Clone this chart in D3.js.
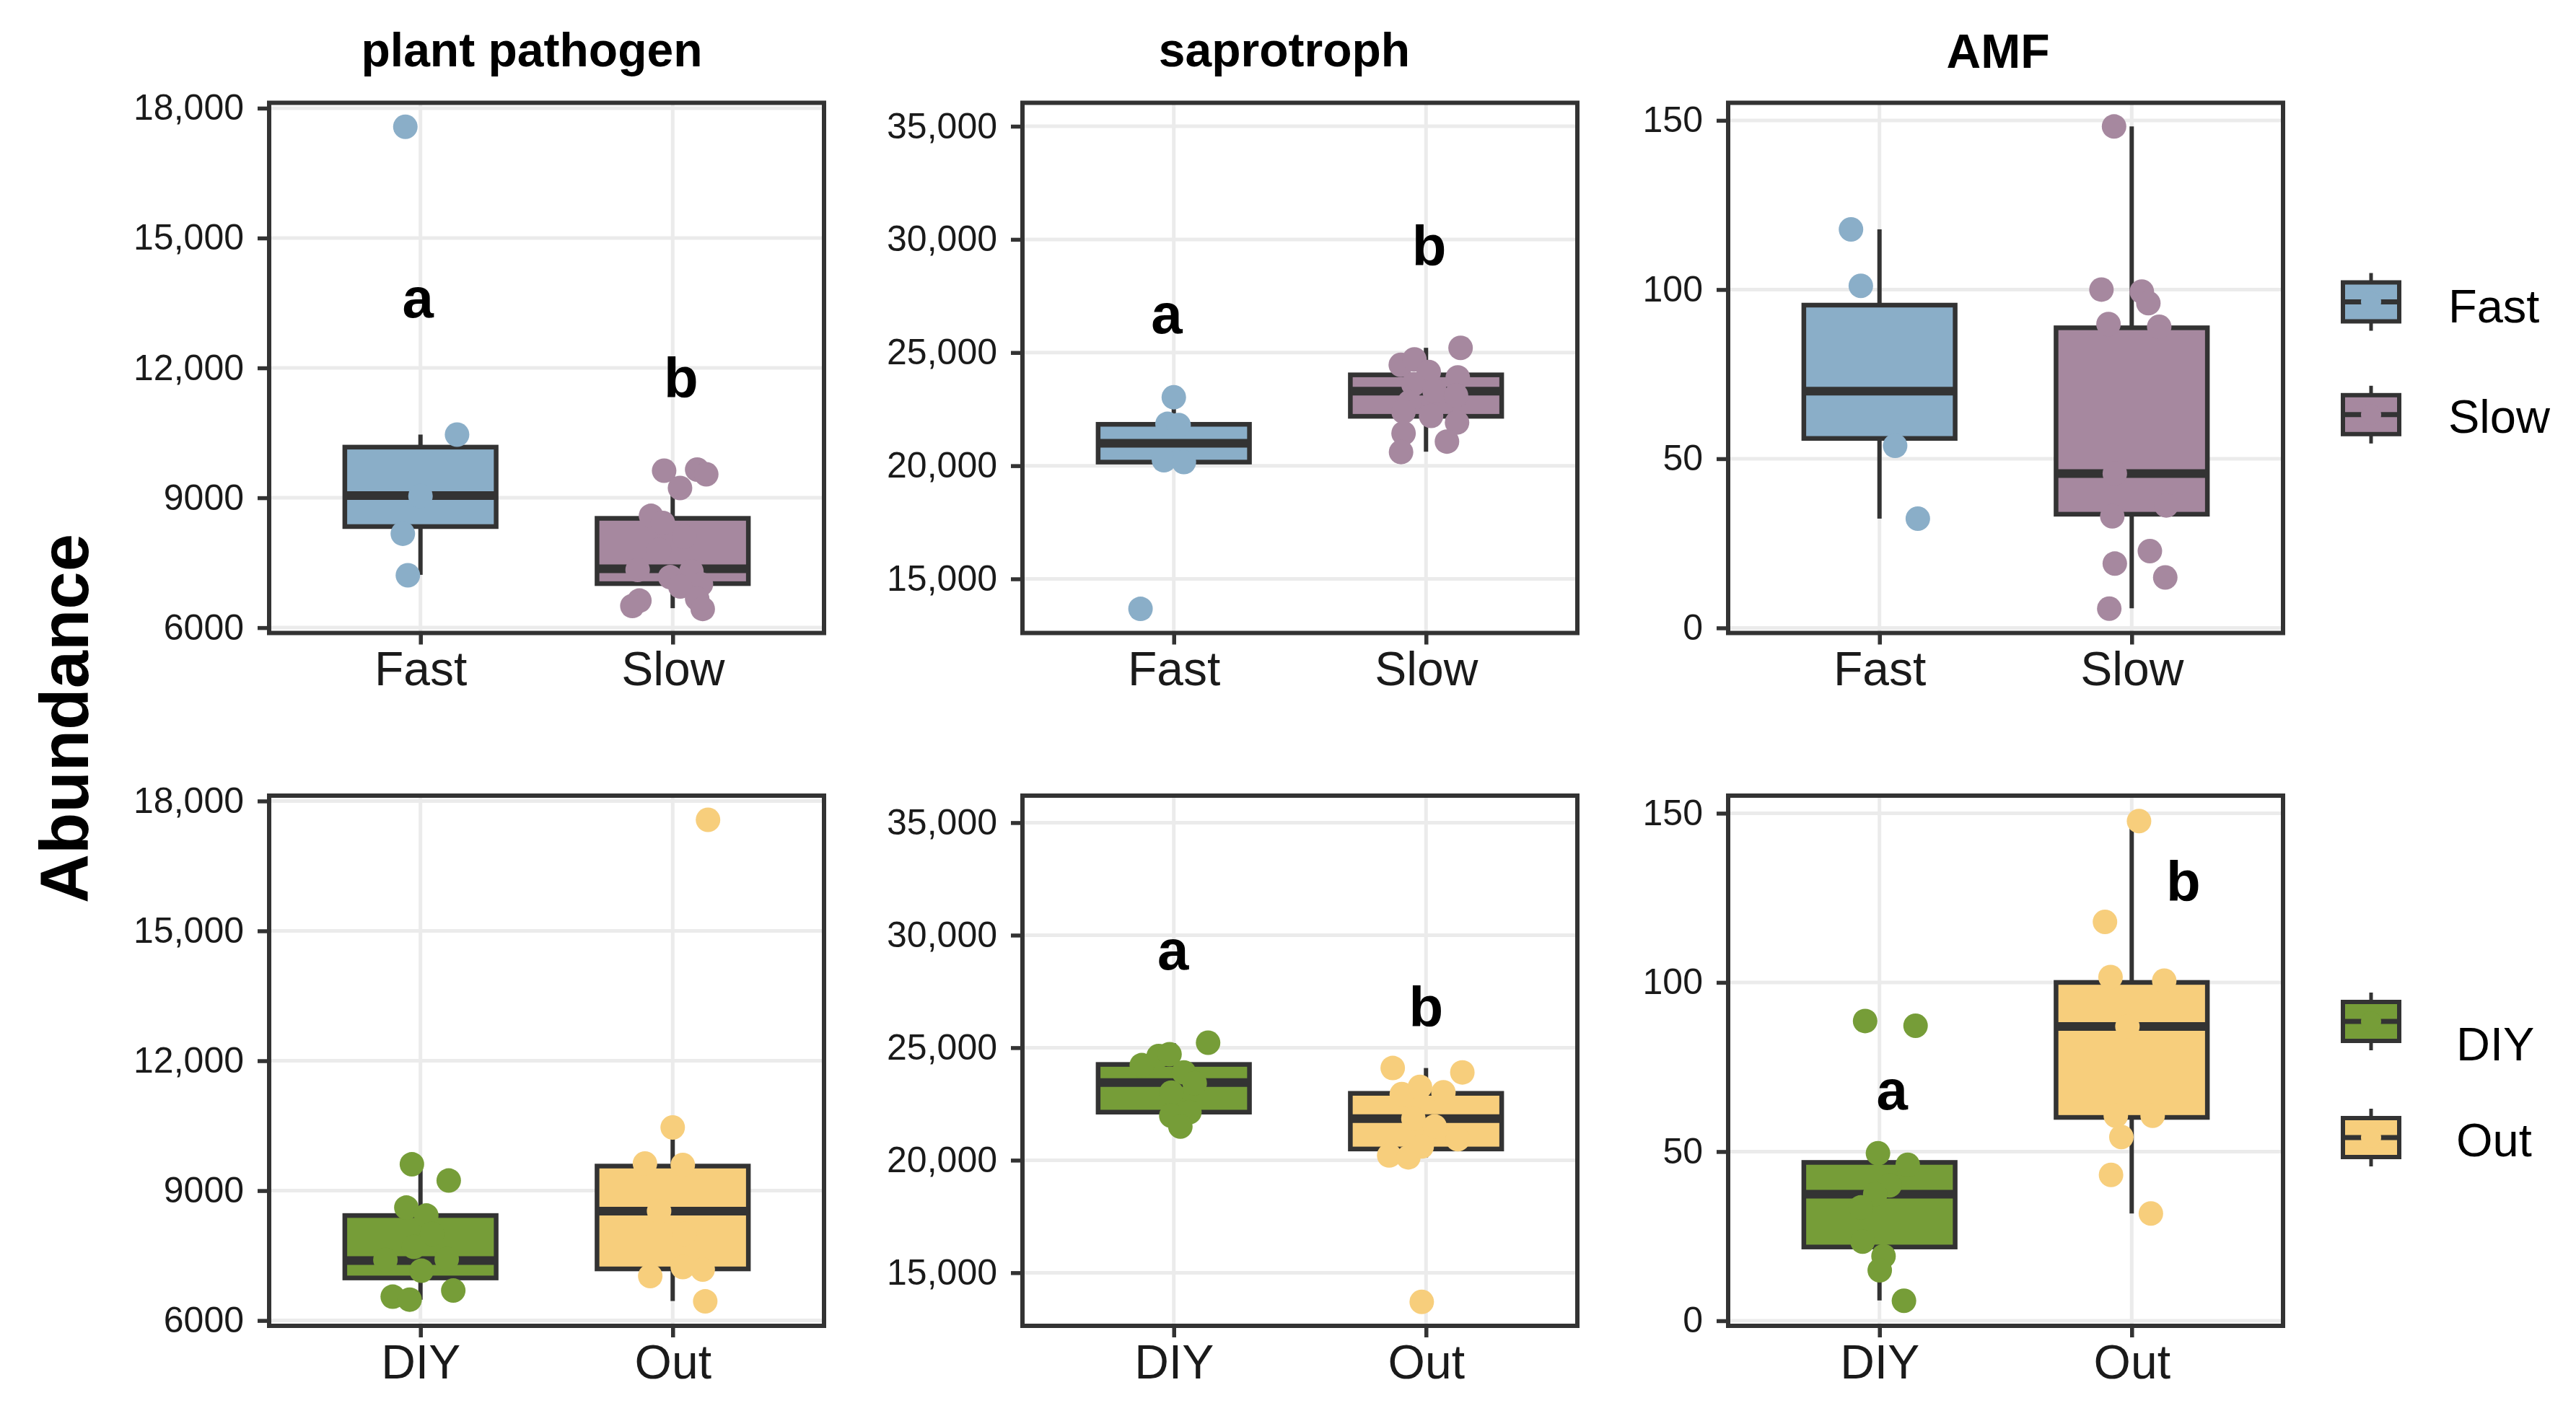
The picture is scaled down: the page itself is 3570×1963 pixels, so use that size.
<!DOCTYPE html>
<html>
<head>
<meta charset="utf-8">
<script src="https://cdn.jsdelivr.net/npm/d3@7"></script>
<style>
  body { margin: 0; background: #ffffff; }
  svg { display: block; }
  text { font-family: "Liberation Sans", Arial, Helvetica, sans-serif; }
</style>
</head>
<body>
<svg id="chart" width="3570" height="1963"></svg>
<script>
// ---------------- DATA ----------------
const functionalGroups = ["plant pathogen", "saprotroph", "AMF"];
const speedGroups = ["Fast", "Slow"];
const originGroups = ["DIY", "Out"];
const yTitle = "Abundance";

// tick values and labels
const pathogenTicks = [6000, 9000, 12000, 15000, 18000];
const pathogenTickLabels = ["6000", "9000", "12,000", "15,000", "18,000"];
const saproTicks = [15000, 20000, 25000, 30000, 35000];
const saproTickLabels = ["15,000", "20,000", "25,000", "30,000", "35,000"];
const amfTicks = [0, 50, 100, 150];
const amfTickLabels = ["0", "50", "100", "150"];

// box statistics: [lower whisker, Q1, median, Q3, upper whisker]
const pathogenFastBox = [7220, 8335, 9050, 10170, 10460];
const pathogenSlowBox = [6450, 7017, 7358, 8525, 9650];
const saproFastBox    = [20160, 20160, 20990, 21830, 23030];
const saproSlowBox    = [20620, 22183, 23298, 24015, 25210];
const amfFastBox      = [32.3, 56, 70, 95.4, 117.8];
const amfSlowBox      = [5.8, 33.6, 45.6, 88.7, 148.2];
const pathogenDIYBox  = [6480, 6983, 7383, 8425, 9610];
const pathogenOutBox  = [6450, 7192, 8525, 9567, 10460];
const saproDIYBox     = [21494, 22136, 23453, 24256, 25200];
const saproOutBox     = [20128, 20498, 21847, 22971, 24096];
const amfDIYBox       = [6.0, 21.8, 37.4, 46.8, 49.5];
const amfOutBox       = [31.7, 60.1, 87.0, 100.0, 147.7];

// jittered sample points: values and horizontal jitter (category units)
const pathogenFastValues = [17570, 10460, 9040, 8170, 7210];
const pathogenFastJitter = [-0.06, 0.145, 0.0, -0.07, -0.05];
const pathogenSlowValues = [9625, 9650, 9542, 9225, 8583, 8417, 8100, 7800, 7333, 7300, 7167, 7000, 6950, 6625, 6500, 6667, 6433];
const pathogenSlowJitter = [-0.034, 0.097, 0.133, 0.029, -0.086, -0.039, 0.046, -0.054, -0.139, 0.074, -0.01, 0.112, 0.03, -0.132, -0.16, 0.097, 0.119];
const saproFastValues = [13674, 23027, 21850, 21800, 20240, 20160];
const saproFastJitter = [-0.132, 0.0, -0.025, 0.019, -0.039, 0.04];
const saproSlowValues = [25210, 24461, 24700, 24143, 23904, 23600, 23300, 23107, 22800, 22390, 22200, 21912, 21434, 21068, 20605];
const saproSlowJitter = [0.137, -0.1, -0.046, 0.011, 0.126, -0.05, 0.034, 0.119, -0.066, -0.089, 0.02, 0.123, -0.089, 0.083, -0.099];
const amfFastValues = [117.8, 101.1, 53.8, 32.3];
const amfFastJitter = [-0.113, -0.074, 0.062, 0.152];
const amfSlowValues = [148.2, 100, 99.4, 96, 89.8, 89, 45.6, 33, 36.2, 22.7, 19, 14.9, 5.7];
const amfSlowJitter = [-0.07, -0.12, 0.04, 0.066, -0.092, 0.109, -0.067, -0.077, 0.137, 0.072, -0.067, 0.133, -0.089];
const pathogenDIYValues = [9608, 9233, 8608, 8425, 8000, 7700, 7400, 7420, 7150, 6692, 6550, 6483];
const pathogenDIYJitter = [-0.034, 0.112, -0.056, 0.023, 0.046, -0.026, -0.139, 0.104, 0.004, 0.13, -0.11, -0.043];
const pathogenOutValues = [17567, 10458, 9625, 9592, 8525, 8000, 7025, 7233, 7175, 6442];
const pathogenOutJitter = [0.14, 0.0, -0.11, 0.04, -0.054, 0.046, -0.089, 0.04, 0.119, 0.129];
const saproDIYValues = [25220, 24224, 24626, 24706, 23903, 23421, 23000, 22136, 21976, 21494];
const saproDIYJitter = [0.136, -0.127, -0.06, -0.017, 0.04, 0.083, -0.01, 0.062, -0.01, 0.026];
const saproOutValues = [24096, 23903, 22939, 23260, 23020, 21847, 21500, 20932, 20209, 20128, 20610, 13704];
const saproOutJitter = [-0.132, 0.144, -0.096, -0.024, 0.069, -0.05, 0.034, 0.126, -0.146, -0.07, -0.017, -0.017];
const amfDIYValues = [88.6, 87.2, 49.5, 46.1, 40, 37.4, 33.5, 23.4, 19.1, 14.9, 5.9];
const amfDIYJitter = [-0.057, 0.143, -0.006, 0.112, 0.04, -0.017, -0.074, -0.067, 0.016, 0.001, 0.097];
const amfOutValues = [147.7, 117.9, 101.6, 100.5, 87, 60.6, 60.6, 54.3, 43.1, 31.7];
const amfOutJitter = [0.029, -0.106, -0.084, 0.129, -0.017, -0.063, 0.083, -0.041, -0.082, 0.076];

// significance letters: [letter, group, y value of baseline, x shift in category units]
const pathogenSpeedLetters = [["a", "Fast", 13167, -0.01], ["b", "Slow", 11317, 0.033]];
const saproSpeedLetters    = [["a", "Fast", 25848, -0.028], ["b", "Slow", 28843, 0.012]];
const saproOriginLetters   = [["a", "DIY", 28481, -0.003], ["b", "Out", 25943, 0.0]];
const amfOriginLetters     = [["a", "DIY", 62.4, 0.05], ["b", "Out", 124.1, 0.205]];

// ---------------- STYLE / LAYOUT ----------------
const fillColors = { Fast: "#8AAEC8", Slow: "#A6889F", DIY: "#769D38", Out: "#F7CE7C" };
const lineColor = "#333333";
const gridColor = "#EBEBEB";
const textColor = "#1a1a1a";

const colLeft = [373, 1417, 2395];
const rowTop = [142.5, 1103];
const plotW = 769, plotH = 735;

const pathogenDomain = [5877, 18124];
const saproDomainTop = [12610, 36036];
const saproDomainBottom = [12640, 36200];
const amfDomain = [-1.5, 155.2];

const series = (values, jitter, box) => ({ values, jitter, box });

const panels = [
  { row: 0, col: 0, cats: speedGroups, ticks: pathogenTicks, labels: pathogenTickLabels, domain: pathogenDomain,
    data: { Fast: series(pathogenFastValues, pathogenFastJitter, pathogenFastBox),
            Slow: series(pathogenSlowValues, pathogenSlowJitter, pathogenSlowBox) }, letters: pathogenSpeedLetters },
  { row: 0, col: 1, cats: speedGroups, ticks: saproTicks, labels: saproTickLabels, domain: saproDomainTop,
    data: { Fast: series(saproFastValues, saproFastJitter, saproFastBox),
            Slow: series(saproSlowValues, saproSlowJitter, saproSlowBox) }, letters: saproSpeedLetters },
  { row: 0, col: 2, cats: speedGroups, ticks: amfTicks, labels: amfTickLabels, domain: amfDomain,
    data: { Fast: series(amfFastValues, amfFastJitter, amfFastBox),
            Slow: series(amfSlowValues, amfSlowJitter, amfSlowBox) }, letters: [] },
  { row: 1, col: 0, cats: originGroups, ticks: pathogenTicks, labels: pathogenTickLabels, domain: pathogenDomain,
    data: { DIY: series(pathogenDIYValues, pathogenDIYJitter, pathogenDIYBox),
            Out: series(pathogenOutValues, pathogenOutJitter, pathogenOutBox) }, letters: [] },
  { row: 1, col: 1, cats: originGroups, ticks: saproTicks, labels: saproTickLabels, domain: saproDomainBottom,
    data: { DIY: series(saproDIYValues, saproDIYJitter, saproDIYBox),
            Out: series(saproOutValues, saproOutJitter, saproOutBox) }, letters: saproOriginLetters },
  { row: 1, col: 2, cats: originGroups, ticks: amfTicks, labels: amfTickLabels, domain: amfDomain,
    data: { DIY: series(amfDIYValues, amfDIYJitter, amfDIYBox),
            Out: series(amfOutValues, amfOutJitter, amfOutBox) }, letters: amfOriginLetters }
];

// ---------------- DRAW ----------------
const svg = d3.select("#chart");
svg.append("rect").attr("width", 3570).attr("height", 1963).attr("fill", "#ffffff");

panels.forEach(p => {
  const x0 = colLeft[p.col], y0 = rowTop[p.row];
  const x = d3.scalePoint().domain(p.cats).range([x0, x0 + plotW]).padding(0.6);
  const y = d3.scaleLinear().domain(p.domain).range([y0 + plotH, y0]);
  const step = x.step();
  const bw = step * 0.6;
  const g = svg.append("g");

  // grid
  g.selectAll(".hgrid").data(p.ticks).join("line")
    .attr("x1", x0).attr("x2", x0 + plotW)
    .attr("y1", d => y(d)).attr("y2", d => y(d))
    .attr("stroke", gridColor).attr("stroke-width", 5);
  g.selectAll(".vgrid").data(p.cats).join("line")
    .attr("x1", d => x(d)).attr("x2", d => x(d))
    .attr("y1", y0).attr("y2", y0 + plotH)
    .attr("stroke", gridColor).attr("stroke-width", 5);

  // boxes
  p.cats.forEach(c => {
    const s = p.data[c];
    const [lo, q1, med, q3, hi] = s.box;
    const cx = x(c);
    const bg = g.append("g");
    bg.append("line").attr("x1", cx).attr("x2", cx).attr("y1", y(hi)).attr("y2", y(q3))
      .attr("stroke", lineColor).attr("stroke-width", 6);
    bg.append("line").attr("x1", cx).attr("x2", cx).attr("y1", y(q1)).attr("y2", y(lo))
      .attr("stroke", lineColor).attr("stroke-width", 6);
    bg.append("rect").attr("x", cx - bw / 2).attr("y", y(q3))
      .attr("width", bw).attr("height", y(q1) - y(q3))
      .attr("fill", fillColors[c]).attr("stroke", lineColor).attr("stroke-width", 6.5);
    bg.append("line").attr("x1", cx - bw / 2).attr("x2", cx + bw / 2)
      .attr("y1", y(med)).attr("y2", y(med))
      .attr("stroke", lineColor).attr("stroke-width", 12);
  });

  // points
  p.cats.forEach(c => {
    const s = p.data[c];
    const pts = s.values.map((v, i) => ({ v, j: s.jitter[i] }));
    g.append("g").selectAll("circle").data(pts).join("circle")
      .attr("cx", d => x(c) + d.j * step)
      .attr("cy", d => y(d.v))
      .attr("r", 17)
      .attr("fill", fillColors[c]);
  });

  // letters
  g.selectAll(".letter").data(p.letters).join("text")
    .attr("x", d => x(d[1]) + d[3] * step)
    .attr("y", d => y(d[2]))
    .attr("text-anchor", "middle")
    .attr("font-size", 78).attr("font-weight", "bold").attr("fill", "#000")
    .text(d => d[0]);

  // panel border
  g.append("rect").attr("x", x0).attr("y", y0).attr("width", plotW).attr("height", plotH)
    .attr("fill", "none").attr("stroke", lineColor).attr("stroke-width", 6);

  // axes
  const yAxis = d3.axisLeft(y).tickValues(p.ticks)
    .tickFormat((d, i) => p.labels[i]).tickSize(16).tickPadding(19);
  const ya = g.append("g").attr("transform", `translate(${x0},0)`).call(yAxis);
  const xAxis = d3.axisBottom(x).tickSize(16).tickPadding(10);
  const xa = g.append("g").attr("transform", `translate(0,${y0 + plotH})`).call(xAxis);
  [ya, xa].forEach(a => {
    a.select(".domain").remove();
    a.selectAll(".tick line").attr("stroke", lineColor).attr("stroke-width", 5.5);
    a.selectAll(".tick text").attr("fill", textColor)
      .attr("font-family", '"Liberation Sans", Arial, sans-serif');
  });
  ya.selectAll(".tick text").attr("font-size", 50);
  xa.selectAll(".tick text").attr("font-size", 66);
});

// column titles
const titleX = [737, 1780, 2769];
const titleY = [92, 92, 94];
svg.selectAll(".title").data(functionalGroups).join("text")
  .attr("x", (d, i) => titleX[i]).attr("y", (d, i) => titleY[i])
  .attr("text-anchor", "middle").attr("font-size", 66).attr("font-weight", "bold")
  .attr("fill", "#000").text(d => d);

// y axis title
svg.append("text")
  .attr("transform", "translate(122,996) rotate(-90)")
  .attr("text-anchor", "middle").attr("font-size", 94).attr("font-weight", "bold")
  .attr("fill", "#000").text(yTitle);

// legends
const legendKeyX = 3286;
const legendLabelX = [3393, 3404];
const legendKeyY = [[418.5, 574.8], [1416, 1577]];
const legendLabelY = [[423.5, 576.5], [1447, 1580]];
[speedGroups, originGroups].forEach((cats, li) => {
  const lg = svg.append("g");
  cats.forEach((c, i) => {
    const cy = legendKeyY[li][i];
    const k = lg.append("g");
    k.append("line").attr("x1", legendKeyX).attr("x2", legendKeyX)
      .attr("y1", cy - 40).attr("y2", cy + 40).attr("stroke", lineColor).attr("stroke-width", 5);
    k.append("rect").attr("x", legendKeyX - 39).attr("y", cy - 27).attr("width", 78).attr("height", 54)
      .attr("fill", fillColors[c]).attr("stroke", lineColor).attr("stroke-width", 6);
    k.append("line").attr("x1", legendKeyX - 39).attr("x2", legendKeyX + 39)
      .attr("y1", cy).attr("y2", cy).attr("stroke", lineColor).attr("stroke-width", 7);
    k.append("circle").attr("cx", legendKeyX).attr("cy", cy).attr("r", 14).attr("fill", fillColors[c]);
    lg.append("text").attr("x", legendLabelX[li]).attr("y", legendLabelY[li][i])
      .attr("dy", "0.36em").attr("font-size", 65).attr("fill", "#000").text(c);
  });
});
</script>
</body>
</html>
